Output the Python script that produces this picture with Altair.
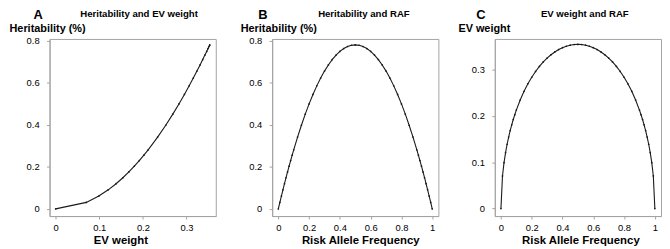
import altair as alt
import pandas as pd

# Risk allele frequency (shared x of panels B and C)
raf = [0, 0.01, 0.02, 0.03, 0.04, 0.05, 0.06, 0.07, 0.08, 0.09, 0.10,
       0.125, 0.15, 0.175, 0.2, 0.225, 0.25, 0.275, 0.3, 0.325, 0.35,
       0.375, 0.4, 0.425, 0.45, 0.475, 0.5,
       0.525, 0.55, 0.575, 0.6, 0.625, 0.65, 0.675, 0.7, 0.725, 0.75,
       0.775, 0.8, 0.825, 0.85, 0.875, 0.9, 0.91, 0.92, 0.93, 0.94,
       0.95, 0.96, 0.97, 0.98, 0.99, 1]

heritability = [0, 0.0309, 0.0612, 0.0908, 0.1198, 0.1482, 0.1760, 0.2031, 0.2296, 0.2555, 0.2808,
                0.3413, 0.3978, 0.4505, 0.4992, 0.5441, 0.585, 0.6221, 0.6552, 0.6845, 0.7098,
                0.7313, 0.7488, 0.7625, 0.7722, 0.7781, 0.78,
                0.7781, 0.7722, 0.7625, 0.7488, 0.7313, 0.7098, 0.6845, 0.6552, 0.6221, 0.585,
                0.5441, 0.4992, 0.4505, 0.3978, 0.3413, 0.2808, 0.2555, 0.2296, 0.2031, 0.1760,
                0.1482, 0.1198, 0.0908, 0.0612, 0.0309, 0]

ev_weight = [0, 0.0703, 0.0989, 0.1205, 0.1385, 0.1540, 0.1678, 0.1803, 0.1917, 0.2022, 0.2120,
             0.2337, 0.2523, 0.2685, 0.2826, 0.2951, 0.3060, 0.3155, 0.3238, 0.3310, 0.3370,
             0.3421, 0.3462, 0.3493, 0.3515, 0.3529, 0.3533,
             0.3529, 0.3515, 0.3493, 0.3462, 0.3421, 0.3370, 0.3310, 0.3238, 0.3155, 0.3060,
             0.2951, 0.2826, 0.2685, 0.2523, 0.2337, 0.2120, 0.2022, 0.1917, 0.1803, 0.1678,
             0.1540, 0.1385, 0.1205, 0.0989, 0.0703, 0]

ev_ticks = [0, 0.1, 0.2, 0.3]
h_ticks = [0, 0.2, 0.4, 0.6, 0.8]
raf_ticks = [0, 0.2, 0.4, 0.6, 0.8, 1]

letters = ["A", "B", "C"]
panel_titles = ["Heritability and EV weight", "Heritability and RAF", "EV weight and RAF"]

df = pd.DataFrame({"raf": raf, "h": heritability, "ev": ev_weight})
dfA = df[df["raf"] <= 0.5]

FONT = "Liberation Sans"
GREY = "#a3a3a3"
INK = "#1a1a1a"
W, H = 168, 179


def panel(data, xf, yf, xdom, ydom, xvals, yvals, xtitle, xtitle_x,
          ytitle, ytitle_x, letter, letter_x, ptitle, ptitle_x):
    x = alt.X(f"{xf}:Q",
              scale=alt.Scale(domain=xdom, nice=False, zero=False),
              axis=alt.Axis(values=xvals, format="~g", title=xtitle,
                            titleX=xtitle_x, titleY=27.5, titleAlign="center",
                            titleBaseline="alphabetic", titleAngle=0,
                            titleFontSize=11.5))
    y = alt.Y(f"{yf}:Q",
              scale=alt.Scale(domain=ydom, nice=False, zero=False),
              axis=alt.Axis(values=yvals, format="~g", title=ytitle,
                            titleX=ytitle_x, titleY=-8, titleAlign="left",
                            titleBaseline="alphabetic", titleAngle=0,
                            titleFontSize=11))
    base = alt.Chart(data).encode(x=x, y=y, order=alt.Order("raf:Q"))
    line = base.mark_line(color=INK, strokeWidth=1.1)
    pts = base.mark_point(filled=True, size=3, color=INK, opacity=1)
    lab = alt.Chart(pd.DataFrame({"t": [letter]})).mark_text(
        font=FONT, fontSize=13, fontWeight="bold", align="center",
        baseline="alphabetic", color="black"
    ).encode(text="t:N", x=alt.value(letter_x), y=alt.value(-20))
    ttl = alt.Chart(pd.DataFrame({"t": [ptitle]})).mark_text(
        font=FONT, fontSize=9.7, fontWeight="bold", align="center",
        baseline="alphabetic", color="black"
    ).encode(text="t:N", x=alt.value(ptitle_x), y=alt.value(-22))
    return alt.layer(line, pts, lab, ttl).properties(width=W, height=H)


pA = panel(dfA, "ev", "h", [-0.014, 0.367], [-0.034, 0.808], ev_ticks, h_ticks,
           "EV weight", 71.6, "Heritability (%)", -41, letters[0], -11.5,
           panel_titles[0], 90.5)
pB = panel(df, "raf", "h", [-0.04, 1.04], [-0.034, 0.808], raf_ticks, h_ticks,
           "Risk Allele Frequency", 89, "Heritability (%)", -32.3, letters[1], -9.3,
           panel_titles[1], 92.7)
pC = panel(df, "raf", "ev", [-0.04, 1.04], [-0.016, 0.365], raf_ticks, ev_ticks,
           "Risk Allele Frequency", 86.5, "EV weight", -37.3, letters[2], -14,
           panel_titles[2], 91)

chart = alt.hconcat(pA, pB, pC, spacing=57, bounds="flush").properties(
    padding={"left": 0, "top": -1, "right": 0, "bottom": 0}
).configure_view(
    stroke=GREY, strokeWidth=1
).configure_axis(
    grid=False, domainColor=GREY, tickColor=GREY, tickSize=3,
    labelFont=FONT, labelFontSize=9.5, labelColor="black",
    titleFont=FONT, titleFontWeight="bold", titleColor="black",
    labelFlush=False, labelOverlap=False
).configure_axisY(labelPadding=7.5).configure_axisX(labelPadding=3.5)

chart.save("out.html", embed_options={"renderer": "svg", "actions": False})
